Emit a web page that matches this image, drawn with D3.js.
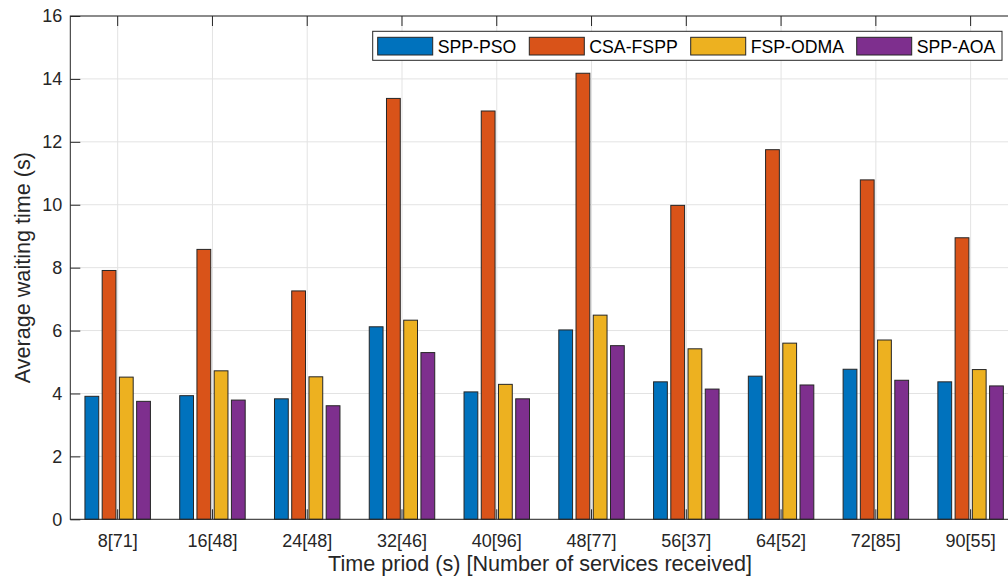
<!DOCTYPE html>
<html>
<head>
<meta charset="utf-8">
<script src="https://cdn.jsdelivr.net/npm/d3@7"></script>
<style>
  html, body { margin: 0; padding: 0; background: #fff; overflow: hidden; }
  svg { display: block; font-family: "Liberation Sans", Arial, sans-serif; }
</style>
</head>
<body>
<svg id="chart" width="1008" height="583"></svg>
<script>
// Categories: time period (s) with number of services received in brackets
const categories = ["8[71]", "16[48]", "24[48]", "32[46]", "40[96]", "48[77]", "56[37]", "64[52]", "72[85]", "90[55]"];

// Average waiting time (s) per method
const sppPso  = [3.91, 3.93, 3.83, 6.12, 4.05, 6.02, 4.37, 4.55, 4.77, 4.37];
const csaFspp = [7.91, 8.58, 7.26, 13.38, 12.98, 14.18, 9.98, 11.75, 10.79, 8.95];
const fspOdma = [4.52, 4.72, 4.53, 6.33, 4.29, 6.49, 5.42, 5.60, 5.70, 4.76];
const sppAoa  = [3.75, 3.79, 3.61, 5.30, 3.83, 5.52, 4.14, 4.27, 4.42, 4.24];

const seriesNames  = ["SPP-PSO", "CSA-FSPP", "FSP-ODMA", "SPP-AOA"];
const seriesValues = [sppPso, csaFspp, fspOdma, sppAoa];
const seriesColors = ["#0072BD", "#D95319", "#EDB120", "#7E2F8E"];

const yTicks = [0, 2, 4, 6, 8, 10, 12, 14, 16];

(function drawChart() {
  const svg = d3.select("#chart");
  const axisColor = "#262626";
  const gridColor = "#e3e3e3";

  // Plot box (right edge runs past the page edge)
  const pLeft = 70.3, pRight = 1018, pTop = 16, pBottom = 519.3;

  const x = d3.scaleBand().domain(categories).range([pLeft, pRight]).padding(0);
  const groupWidth = x.bandwidth() * (4 / 5.5);
  const xs = d3.scaleBand().domain(seriesNames)
    .range([-groupWidth / 2, groupWidth / 2])
    .paddingInner(0.2).paddingOuter(0.1);
  const y = d3.scaleLinear().domain([0, 16]).range([pBottom, pTop]);
  const cx = c => x(c) + x.bandwidth() / 2;

  // Grid
  const grid = svg.append("g");
  grid.selectAll("line.h").data(yTicks).join("line").attr("class", "h")
    .attr("x1", pLeft).attr("x2", pRight)
    .attr("y1", d => y(d)).attr("y2", d => y(d))
    .attr("stroke", gridColor).attr("stroke-width", 1);
  grid.selectAll("line.v").data(categories).join("line").attr("class", "v")
    .attr("x1", cx).attr("x2", cx)
    .attr("y1", pTop).attr("y2", pBottom)
    .attr("stroke", gridColor).attr("stroke-width", 1);

  // Bars
  const rows = [];
  categories.forEach((c, i) => {
    seriesNames.forEach((s, j) => rows.push({ cat: c, series: s, value: seriesValues[j][i], color: seriesColors[j] }));
  });
  svg.append("g").selectAll("rect").data(rows).join("rect")
    .attr("x", d => cx(d.cat) + xs(d.series))
    .attr("width", xs.bandwidth())
    .attr("y", d => y(d.value))
    .attr("height", d => y(0) - y(d.value))
    .attr("fill", d => d.color)
    .attr("stroke", "#262626").attr("stroke-width", 1);

  // Axes: box with inward ticks on all four sides
  const tickLen = 10;
  svg.append("rect").attr("x", pLeft).attr("y", pTop)
    .attr("width", pRight - pLeft).attr("height", pBottom - pTop)
    .attr("fill", "none").attr("stroke", axisColor).attr("stroke-width", 1);

  const yAxisL = d3.axisLeft(y).tickValues(yTicks).tickSize(-tickLen).tickPadding(8);
  const yAxisR = d3.axisRight(y).tickValues(yTicks).tickSize(-tickLen).tickFormat("");
  const xAxisB = d3.axisBottom(x).tickSize(-tickLen).tickPadding(15);
  const xAxisT = d3.axisTop(x).tickSize(-tickLen).tickFormat("");

  function styleAxis(g) {
    g.select(".domain").remove();
    g.selectAll(".tick line").attr("stroke", axisColor);
    g.selectAll(".tick text").attr("fill", axisColor).attr("font-size", 18)
      .attr("font-family", "Liberation Sans, Arial, sans-serif");
  }
  svg.append("g").attr("transform", `translate(${pLeft},0)`).call(yAxisL).call(styleAxis);
  svg.append("g").attr("transform", `translate(${pRight},0)`).call(yAxisR).call(styleAxis);
  svg.append("g").attr("transform", `translate(0,${pBottom})`).call(xAxisB).call(styleAxis);
  svg.append("g").attr("transform", `translate(0,${pTop})`).call(xAxisT).call(styleAxis);

  // Axis titles
  svg.append("text")
    .attr("x", 540).attr("y", 571)
    .attr("text-anchor", "middle").attr("fill", axisColor).attr("font-size", 21.6)
    .text("Time priod (s) [Number of services received]");
  svg.append("text")
    .attr("transform", `translate(30,${(pTop + pBottom) / 2}) rotate(-90)`)
    .attr("text-anchor", "middle").attr("fill", axisColor).attr("font-size", 21.6)
    .text("Average waiting time (s)");

  // Legend
  const legend = svg.append("g");
  legend.append("rect").attr("x", 372.7).attr("y", 31.3).attr("width", 629.3).attr("height", 29)
    .attr("fill", "#fff").attr("stroke", "#262626").attr("stroke-width", 1);
  const legendX = [377.7, 529.3, 690.7, 856.7];
  const li = legend.selectAll("g.item").data(seriesNames).join("g").attr("class", "item")
    .attr("transform", (d, i) => `translate(${legendX[i]},37.3)`);
  li.append("rect").attr("width", 55).attr("height", 17.7)
    .attr("fill", (d, i) => seriesColors[i]).attr("stroke", "#262626").attr("stroke-width", 1);
  li.append("text").attr("x", 60).attr("y", 15.2)
    .attr("fill", "#000").attr("font-size", 17.7).text(d => d);
})();
</script>
</body>
</html>
